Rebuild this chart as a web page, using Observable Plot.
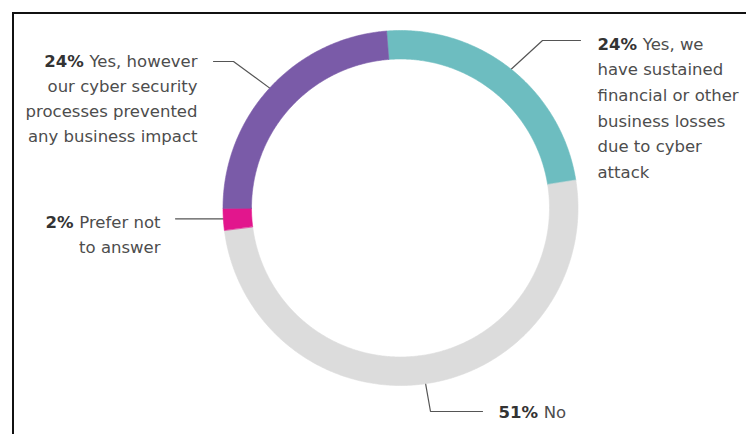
<!DOCTYPE html>
<html><head><meta charset="utf-8">
<script src="https://cdn.jsdelivr.net/npm/d3@7"></script>
<script src="https://cdn.jsdelivr.net/npm/@observablehq/plot@0.6"></script>
<style>
body{margin:0;background:#fff;}
#wrap{position:relative;width:746px;height:434px;overflow:hidden;background:#fff;}
#frame{position:absolute;left:12px;top:12px;width:760px;height:440px;border-top:2px solid #111;border-left:2px solid #111;pointer-events:none;}
#chart{position:absolute;left:0;top:0;}
</style></head><body>
<div id="wrap"><div id="chart"></div><div id="frame"></div></div>
<script>
// ---- data ----
const categories = [
  "Yes, we have sustained financial or other business losses due to cyber attack",
  "No",
  "Prefer not to answer",
  "Yes, however our cyber security processes prevented any business impact"
];
const values = [24, 51, 2, 24];
const labelLines = [
  ["24% Yes, we", "have sustained", "financial or other", "business losses", "due to cyber", "attack"],
  ["51% No"],
  ["2% Prefer not", "to answer"],
  ["24% Yes, however", "our cyber security", "processes prevented", "any business impact"]
];
const colors = ["#6dbdc0", "#dcdcdc", "#e2168d", "#7a5ba8"];

// ---- layout ----
const W = 746, H = 434;
const cx = 400, cy = 207.5, rOuter = 177.5, rInner = 149;
const startDeg = -4.5;
const leaderLayout = [
  {elbow: [542, 40], end: [580, 40]},
  {elbow: [430, 411], end: [482, 411]},
  {elbow: null, endX: 175},
  {elbow: [233, 61], end: [213, 61]}
];
const textLayout = [
  {x: 597, y: 44, anchor: "start", lh: 25.6},
  {x: 498, y: 412, anchor: "start", lh: 25},
  {x: 160, y: 222, anchor: "end", lh: 25},
  {x: 197, y: 61, anchor: "end", lh: 25}
];
const FONT = "DejaVu Sans", FSIZE = 16.5;

const rad = d => d * Math.PI / 180;
const pie = d3.pie().sort(null).value(d => d)
  .startAngle(rad(startDeg)).endAngle(rad(startDeg + 360));
const arcs = pie(values);
const pt = (a, r) => [cx + r * Math.sin(a), cy - r * Math.cos(a)];

// ring polygons
const ringRows = [];
arcs.forEach((arc, i) => {
  const a0 = arc.startAngle, a1 = arc.endAngle;
  const n = Math.max(2, Math.ceil((a1 - a0) / rad(0.5)));
  for (let k = 0; k <= n; k++) {
    const [x, y] = pt(a0 + (a1 - a0) * k / n, rOuter);
    ringRows.push({cat: categories[i], x, y});
  }
  for (let k = n; k >= 0; k--) {
    const [x, y] = pt(a0 + (a1 - a0) * k / n, rInner);
    ringRows.push({cat: categories[i], x, y});
  }
});

// leader lines
const leaderRows = [];
arcs.forEach((arc, i) => {
  const mid = (arc.startAngle + arc.endAngle) / 2;
  const [sx, sy] = pt(mid, rOuter - 6);
  const L = leaderLayout[i];
  leaderRows.push({k: i, x: sx, y: sy});
  if (L.elbow) {
    leaderRows.push({k: i, x: L.elbow[0], y: L.elbow[1]});
    leaderRows.push({k: i, x: L.end[0], y: L.end[1]});
  } else {
    leaderRows.push({k: i, x: L.endX, y: sy});
  }
});

// text rows
const textRows = [];
labelLines.forEach((lines, i) => {
  const T = textLayout[i];
  lines.forEach((s, j) => textRows.push({i, s, x: T.x, y: T.y + j * T.lh, anchor: T.anchor}));
});

const plot = Plot.plot({
  width: W, height: H, margin: 0,
  x: {domain: [0, W], range: [0, W], axis: null},
  y: {domain: [0, H], range: [0, H], axis: null},
  color: {domain: categories, range: colors},
  style: {background: "transparent", overflow: "visible"},
  marks: [
    Plot.line(leaderRows, {x: "x", y: "y", z: "k", stroke: "#555", strokeWidth: 1.2}),
    Plot.line(ringRows, {x: "x", y: "y", z: "cat", fill: "cat", stroke: "cat", strokeWidth: 0.6, curve: "linear-closed"}),
    Plot.text(textRows.filter(d => d.anchor === "start"), {x: "x", y: "y", text: "s", textAnchor: "start",
      fontFamily: FONT, fontSize: FSIZE, fill: "#4d4d4d"}),
    Plot.text(textRows.filter(d => d.anchor === "end"), {x: "x", y: "y", text: "s", textAnchor: "end",
      fontFamily: FONT, fontSize: FSIZE, fill: "#4d4d4d"})
  ]
});

// bold percentages
plot.querySelectorAll("text").forEach(t => {
  const s = t.textContent;
  const m = s.match(/^(\d+%)\s(.*)$/);
  if (!m) return;
  while (t.firstChild) t.removeChild(t.firstChild);
  const b = document.createElementNS("http://www.w3.org/2000/svg", "tspan");
  b.setAttribute("font-weight", "bold");
  b.setAttribute("fill", "#333");
  b.textContent = m[1] + "\u00a0";
  const r = document.createElementNS("http://www.w3.org/2000/svg", "tspan");
  r.textContent = m[2];
  t.appendChild(b); t.appendChild(r);
});

document.getElementById("chart").appendChild(plot);
</script>
</body></html>
